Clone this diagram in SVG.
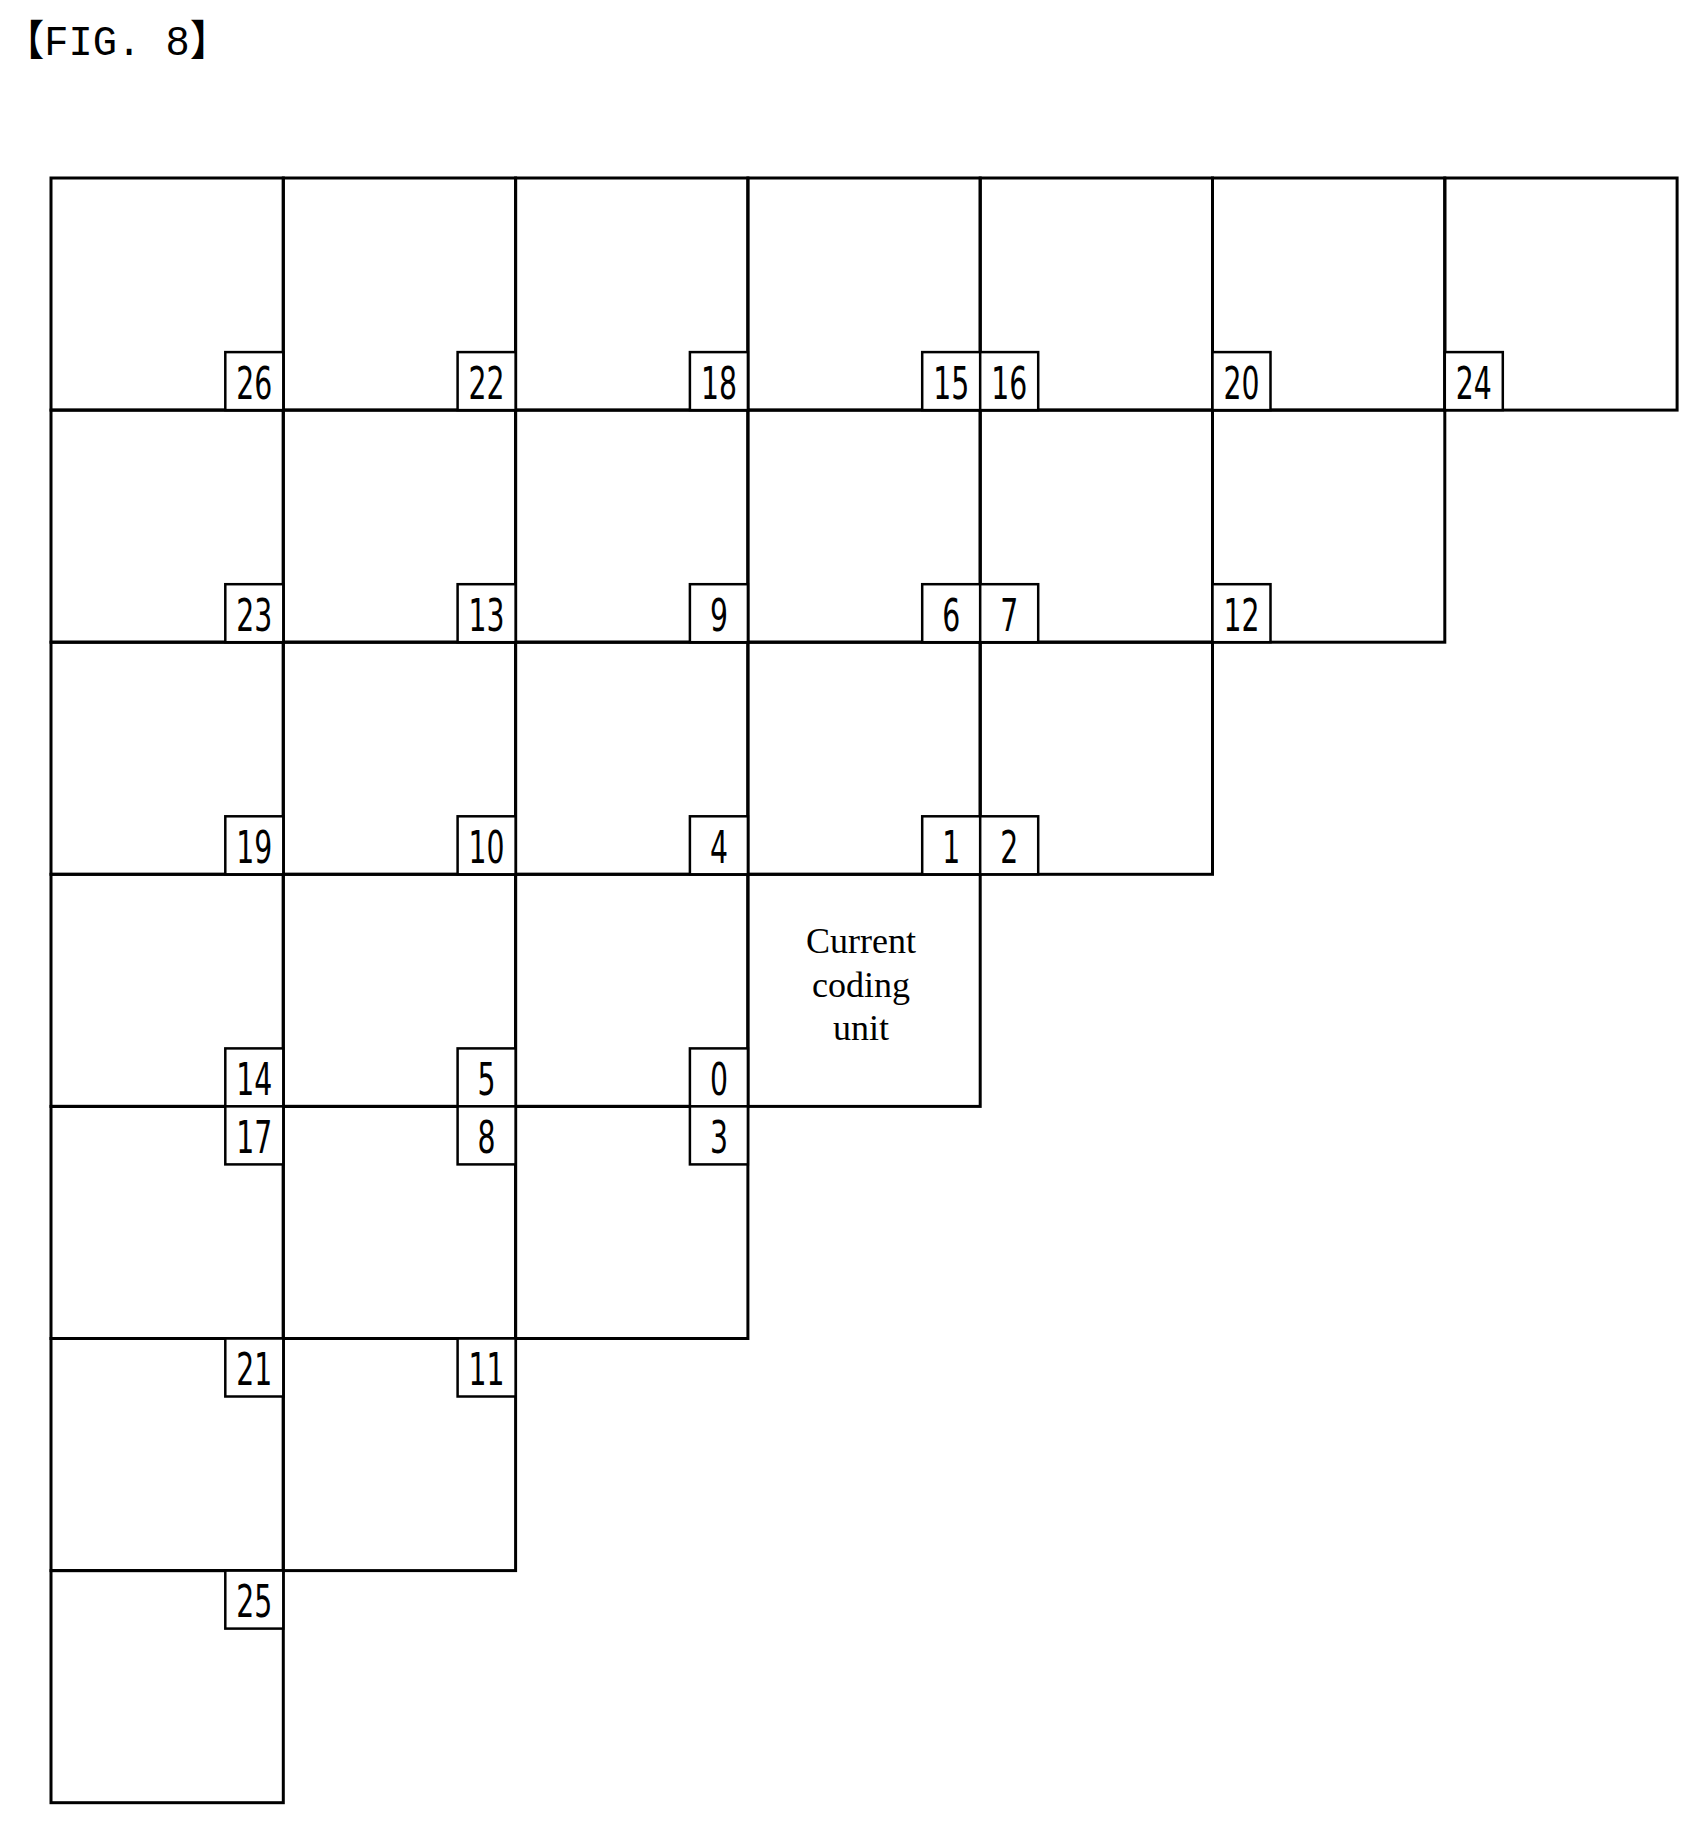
<svg xmlns="http://www.w3.org/2000/svg" width="1696" height="1825" viewBox="0 0 1696 1825">
<style>
.c{fill:none;stroke:#000;stroke-width:3}
.b{fill:#fff;stroke:#000;stroke-width:2.5}
.n{font-family:"DejaVu Sans Condensed","Liberation Sans",sans-serif;font-size:44px;text-anchor:middle;fill:#000}
.t{font-family:"Liberation Serif",serif;font-size:36px;text-anchor:middle;fill:#000}
</style>
<rect width="1696" height="1825" fill="#fff"/>
<text x="4" y="55" font-family="'Liberation Mono','Noto Sans CJK JP',monospace" font-size="42" textLength="226" lengthAdjust="spacingAndGlyphs">【FIG. 8】</text>
<g id="cells">
<rect class="c" x="51" y="178" width="232.3" height="232.1"/><rect class="c" x="283.3" y="178" width="232.3" height="232.1"/><rect class="c" x="515.6" y="178" width="232.3" height="232.1"/><rect class="c" x="747.9" y="178" width="232.3" height="232.1"/><rect class="c" x="980.2" y="178" width="232.3" height="232.1"/><rect class="c" x="1212.5" y="178" width="232.3" height="232.1"/><rect class="c" x="1444.8" y="178" width="232.3" height="232.1"/>
<rect class="c" x="51" y="410.1" width="232.3" height="232.1"/><rect class="c" x="283.3" y="410.1" width="232.3" height="232.1"/><rect class="c" x="515.6" y="410.1" width="232.3" height="232.1"/><rect class="c" x="747.9" y="410.1" width="232.3" height="232.1"/><rect class="c" x="980.2" y="410.1" width="232.3" height="232.1"/><rect class="c" x="1212.5" y="410.1" width="232.3" height="232.1"/>
<rect class="c" x="51" y="642.2" width="232.3" height="232.1"/><rect class="c" x="283.3" y="642.2" width="232.3" height="232.1"/><rect class="c" x="515.6" y="642.2" width="232.3" height="232.1"/><rect class="c" x="747.9" y="642.2" width="232.3" height="232.1"/><rect class="c" x="980.2" y="642.2" width="232.3" height="232.1"/>
<rect class="c" x="51" y="874.3" width="232.3" height="232.1"/><rect class="c" x="283.3" y="874.3" width="232.3" height="232.1"/><rect class="c" x="515.6" y="874.3" width="232.3" height="232.1"/>
<rect class="c" x="51" y="1106.4" width="232.3" height="232.1"/><rect class="c" x="283.3" y="1106.4" width="232.3" height="232.1"/><rect class="c" x="515.6" y="1106.4" width="232.3" height="232.1"/>
<rect class="c" x="51" y="1338.5" width="232.3" height="232.1"/><rect class="c" x="283.3" y="1338.5" width="232.3" height="232.1"/>
<rect class="c" x="51" y="1570.6" width="232.3" height="232.1"/>
</g>
<g id="current">
<rect class="c" x="747.9" y="874.3" width="232.3" height="232.1"/>
<text class="t" x="861" y="953">Current</text>
<text class="t" x="861" y="997">coding</text>
<text class="t" x="861" y="1040">unit</text>
</g>
<g id="labels">
<g id="n26"><rect class="b" x="225.3" y="352.1" width="58" height="58"/><text class="n" x="254.3" y="399" textLength="36" lengthAdjust="spacingAndGlyphs">26</text></g>
<g id="n22"><rect class="b" x="457.6" y="352.1" width="58" height="58"/><text class="n" x="486.6" y="399" textLength="36" lengthAdjust="spacingAndGlyphs">22</text></g>
<g id="n18"><rect class="b" x="689.9" y="352.1" width="58" height="58"/><text class="n" x="718.9" y="399" textLength="36" lengthAdjust="spacingAndGlyphs">18</text></g>
<g id="n15"><rect class="b" x="922.2" y="352.1" width="58" height="58"/><text class="n" x="951.2" y="399" textLength="36" lengthAdjust="spacingAndGlyphs">15</text></g>
<g id="n16"><rect class="b" x="980.2" y="352.1" width="58" height="58"/><text class="n" x="1009.2" y="399" textLength="36" lengthAdjust="spacingAndGlyphs">16</text></g>
<g id="n20"><rect class="b" x="1212.5" y="352.1" width="58" height="58"/><text class="n" x="1241.5" y="399" textLength="36" lengthAdjust="spacingAndGlyphs">20</text></g>
<g id="n24"><rect class="b" x="1444.8" y="352.1" width="58" height="58"/><text class="n" x="1473.8" y="399" textLength="36" lengthAdjust="spacingAndGlyphs">24</text></g>
<g id="n23"><rect class="b" x="225.3" y="584.2" width="58" height="58"/><text class="n" x="254.3" y="631" textLength="36" lengthAdjust="spacingAndGlyphs">23</text></g>
<g id="n13"><rect class="b" x="457.6" y="584.2" width="58" height="58"/><text class="n" x="486.6" y="631" textLength="36" lengthAdjust="spacingAndGlyphs">13</text></g>
<g id="n9"><rect class="b" x="689.9" y="584.2" width="58" height="58"/><text class="n" x="718.9" y="631" textLength="18" lengthAdjust="spacingAndGlyphs">9</text></g>
<g id="n6"><rect class="b" x="922.2" y="584.2" width="58" height="58"/><text class="n" x="951.2" y="631" textLength="18" lengthAdjust="spacingAndGlyphs">6</text></g>
<g id="n7"><rect class="b" x="980.2" y="584.2" width="58" height="58"/><text class="n" x="1009.2" y="631" textLength="18" lengthAdjust="spacingAndGlyphs">7</text></g>
<g id="n12"><rect class="b" x="1212.5" y="584.2" width="58" height="58"/><text class="n" x="1241.5" y="631" textLength="36" lengthAdjust="spacingAndGlyphs">12</text></g>
<g id="n19"><rect class="b" x="225.3" y="816.3" width="58" height="58"/><text class="n" x="254.3" y="863" textLength="36" lengthAdjust="spacingAndGlyphs">19</text></g>
<g id="n10"><rect class="b" x="457.6" y="816.3" width="58" height="58"/><text class="n" x="486.6" y="863" textLength="36" lengthAdjust="spacingAndGlyphs">10</text></g>
<g id="n4"><rect class="b" x="689.9" y="816.3" width="58" height="58"/><text class="n" x="718.9" y="863" textLength="18" lengthAdjust="spacingAndGlyphs">4</text></g>
<g id="n1"><rect class="b" x="922.2" y="816.3" width="58" height="58"/><text class="n" x="951.2" y="863" textLength="18" lengthAdjust="spacingAndGlyphs">1</text></g>
<g id="n2"><rect class="b" x="980.2" y="816.3" width="58" height="58"/><text class="n" x="1009.2" y="863" textLength="18" lengthAdjust="spacingAndGlyphs">2</text></g>
<g id="n14"><rect class="b" x="225.3" y="1048.4" width="58" height="58"/><text class="n" x="254.3" y="1095" textLength="36" lengthAdjust="spacingAndGlyphs">14</text></g>
<g id="n5"><rect class="b" x="457.6" y="1048.4" width="58" height="58"/><text class="n" x="486.6" y="1095" textLength="18" lengthAdjust="spacingAndGlyphs">5</text></g>
<g id="n0"><rect class="b" x="689.9" y="1048.4" width="58" height="58"/><text class="n" x="718.9" y="1095" textLength="18" lengthAdjust="spacingAndGlyphs">0</text></g>
<g id="n17"><rect class="b" x="225.3" y="1106.4" width="58" height="58"/><text class="n" x="254.3" y="1153" textLength="36" lengthAdjust="spacingAndGlyphs">17</text></g>
<g id="n8"><rect class="b" x="457.6" y="1106.4" width="58" height="58"/><text class="n" x="486.6" y="1153" textLength="18" lengthAdjust="spacingAndGlyphs">8</text></g>
<g id="n3"><rect class="b" x="689.9" y="1106.4" width="58" height="58"/><text class="n" x="718.9" y="1153" textLength="18" lengthAdjust="spacingAndGlyphs">3</text></g>
<g id="n21"><rect class="b" x="225.3" y="1338.5" width="58" height="58"/><text class="n" x="254.3" y="1385" textLength="36" lengthAdjust="spacingAndGlyphs">21</text></g>
<g id="n11"><rect class="b" x="457.6" y="1338.5" width="58" height="58"/><text class="n" x="486.6" y="1385" textLength="36" lengthAdjust="spacingAndGlyphs">11</text></g>
<g id="n25"><rect class="b" x="225.3" y="1570.6" width="58" height="58"/><text class="n" x="254.3" y="1617" textLength="36" lengthAdjust="spacingAndGlyphs">25</text></g>
</g>
</svg>
